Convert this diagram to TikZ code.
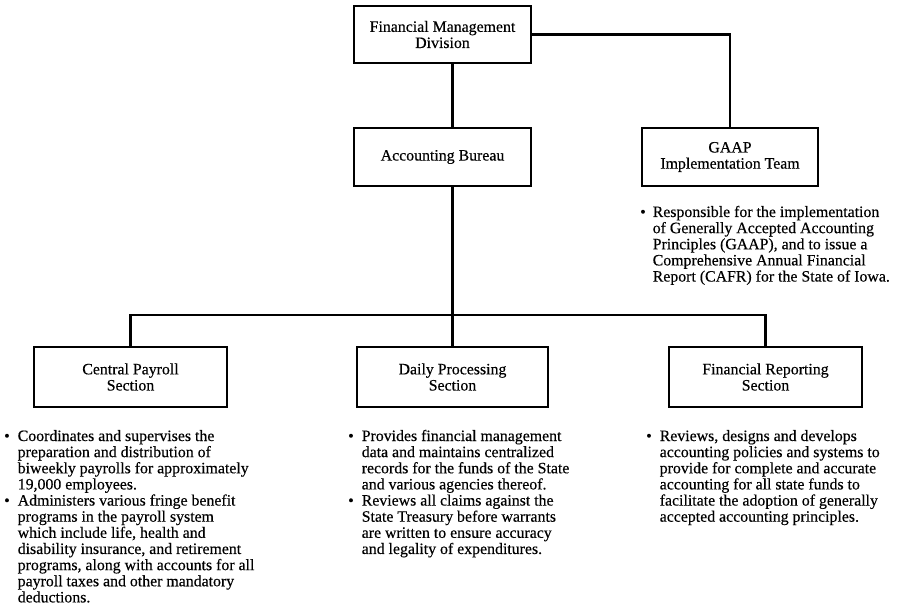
\documentclass[tikz,border=0pt]{standalone}
\usepackage{fontspec}
\setmainfont{Liberation Serif}[FakeBold=0.35]
\newcommand{\orgfont}{\fontsize{15.9}{16.2}\selectfont}
\newcommand{\bul}{\textbullet}
\begin{document}
\begin{tikzpicture}[x=1bp,y=-1bp,
  unit/.style={draw, line width=2.2bp, inner sep=0pt, align=center, font=\orgfont},
  link/.style={line width=2.2bp},
  notes/.style={anchor=base west, inner sep=0pt, font=\orgfont}]
\useasboundingbox (0,0) rectangle (898,607);

% organisation units
\node[unit, minimum width=177bp, minimum height=57bp] (fmd)  at (442.5,34.5) {Financial Management\\Division};
\node[unit, minimum width=177bp, minimum height=58bp] (acc)  at (442.5,157)  {Accounting Bureau};
\node[unit, minimum width=176bp, minimum height=58bp] (gaap) at (730,157)    {GAAP\\Implementation Team};
\node[unit, minimum width=193bp, minimum height=60bp] (cp)   at (130.5,377)  {Central Payroll\\Section};
\node[unit, minimum width=191bp, minimum height=60bp] (dp)   at (452.5,377)  {Daily Processing\\Section};
\node[unit, minimum width=193bp, minimum height=60bp] (fr)   at (765.5,377)  {Financial Reporting\\Section};

% reporting lines
\coordinate (bar) at (452.5,315);
\draw[link] (fmd.east) -| (gaap.north);
\draw[link] (fmd.south -| dp.north) -- (acc.north -| dp.north);
\draw[link] (acc.south -| dp.north) -- (dp.north);
\draw[link] (cp.north) |- (bar) -| (fr.north);

% duties
\node[notes] (gaapnotes) at (640,217) {\begin{tabular}[t]{@{}l@{\hspace{7bp}}l@{}}
\bul & Responsible for the implementation\\
 & of Generally Accepted Accounting\\
 & Principles (GAAP), and to issue a\\
 & Comprehensive Annual Financial\\
 & Report (CAFR) for the State of Iowa.
\end{tabular}};

\node[notes] (cpnotes) at (4,441) {\begin{tabular}[t]{@{}l@{\hspace{8bp}}l@{}}
\bul & Coordinates and supervises the\\
 & preparation and distribution of\\
 & biweekly payrolls for approximately\\
 & 19,000 employees.\\
\bul & Administers various fringe benefit\\
 & programs in the payroll system\\
 & which include life, health and\\
 & disability insurance, and retirement\\
 & programs, along with accounts for all\\
 & payroll taxes and other mandatory\\
 & deductions.
\end{tabular}};

\node[notes] (dpnotes) at (348,441) {\begin{tabular}[t]{@{}l@{\hspace{8bp}}l@{}}
\bul & Provides financial management\\
 & data and maintains centralized\\
 & records for the funds of the State\\
 & and various agencies thereof.\\
\bul & Reviews all claims against the\\
 & State Treasury before warrants\\
 & are written to ensure accuracy\\
 & and legality of expenditures.
\end{tabular}};

\node[notes] (frnotes) at (646,441) {\begin{tabular}[t]{@{}l@{\hspace{8bp}}l@{}}
\bul & Reviews, designs and develops\\
 & accounting policies and systems to\\
 & provide for complete and accurate\\
 & accounting for all state funds to\\
 & facilitate the adoption of generally\\
 & accepted accounting principles.
\end{tabular}};
\end{tikzpicture}
\end{document}
